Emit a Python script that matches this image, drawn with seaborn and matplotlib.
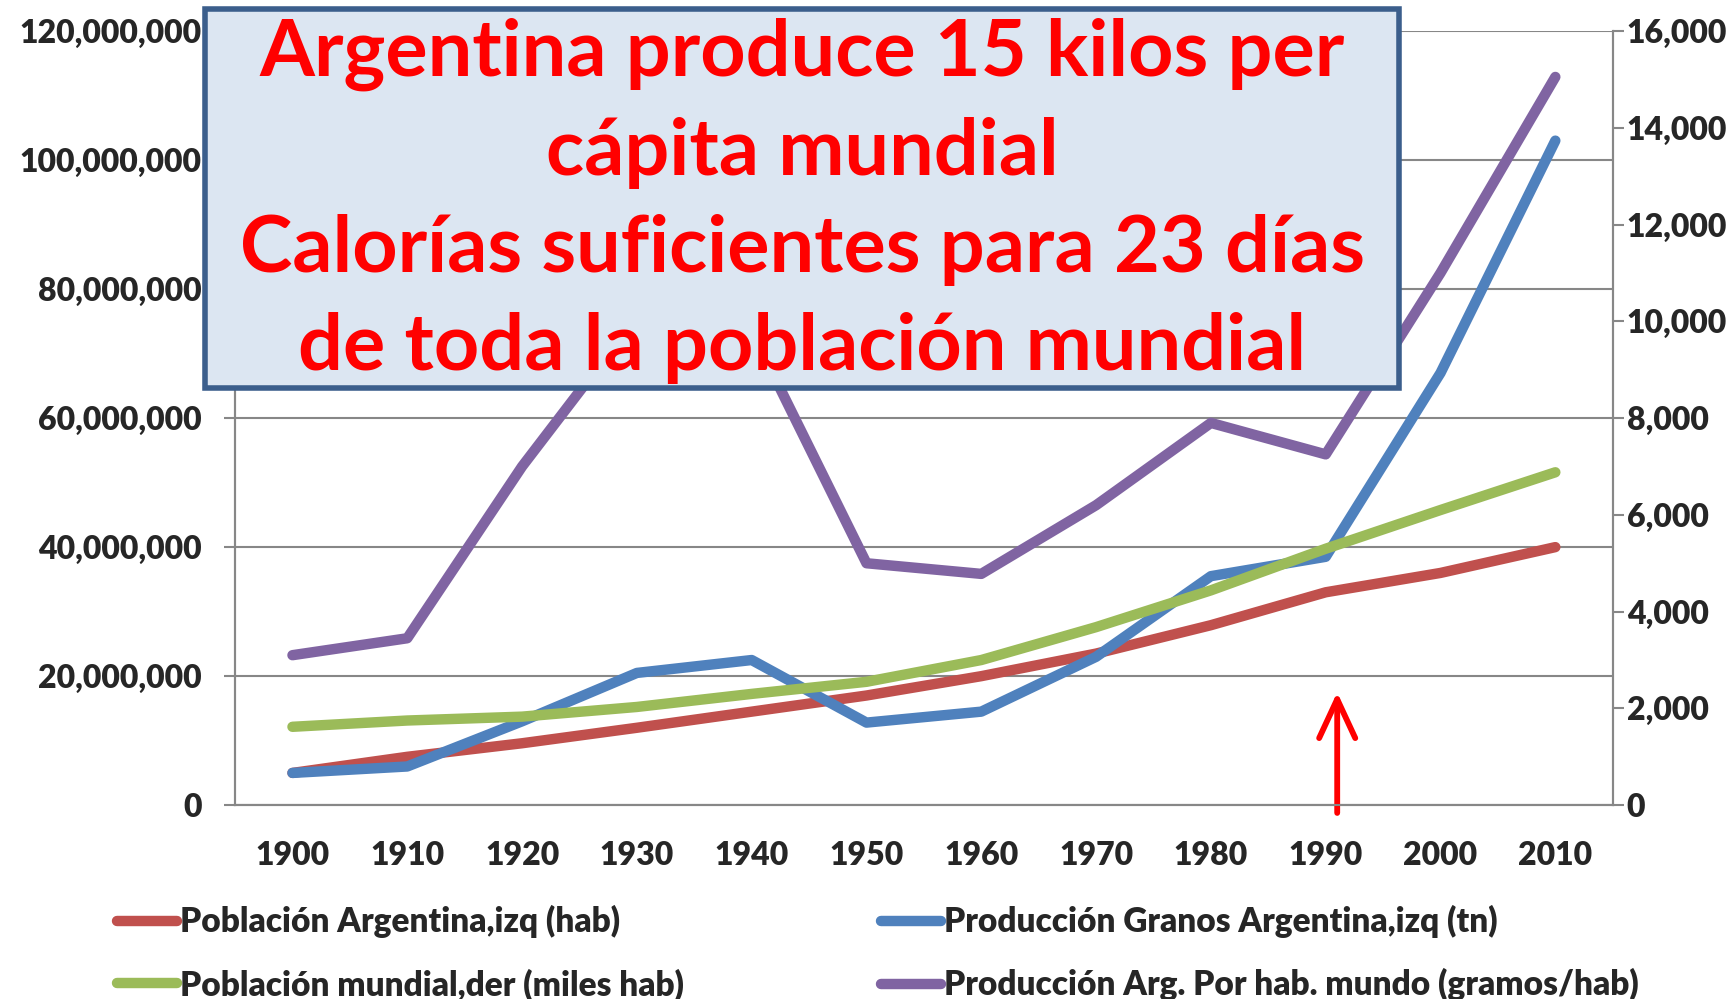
import matplotlib
matplotlib.use("Agg")
import matplotlib.pyplot as plt
from matplotlib.patches import Rectangle
import numpy as np
import pandas as pd
import seaborn as sns

years = ["1900", "1910", "1920", "1930", "1940", "1950",
         "1960", "1970", "1980", "1990", "2000", "2010"]

# left axis
pob_arg = [5.0e6, 7.5e6, 9.6e6, 12.0e6, 14.5e6, 17.0e6,
           20.0e6, 23.5e6, 27.9e6, 33.0e6, 36.0e6, 40.0e6]
prod_granos = [5.0e6, 6.0e6, 13.0e6, 20.5e6, 22.5e6, 12.8e6,
               14.5e6, 23.0e6, 35.5e6, 38.5e6, 67.0e6, 103.0e6]

# right axis
pob_mundial = [1620, 1750, 1830, 2030, 2300, 2550,
               3000, 3680, 4440, 5300, 6100, 6880]
prod_per_hab = [3100, 3450, 7000, 10100, 9800, 5000,
                4780, 6200, 7900, 7250, 11000, 15050]

left_ticks = [0, 20e6, 40e6, 60e6, 80e6, 100e6, 120e6]
right_ticks = [0, 2000, 4000, 6000, 8000, 10000, 12000, 14000, 16000]

labels = {
    "pob_arg": "Población Argentina,izq (hab)",
    "prod_granos": "Producción Granos Argentina,izq (tn)",
    "pob_mundial": "Población mundial,der (miles hab)",
    "prod_per_hab": "Producción Arg. Por hab. mundo (gramos/hab)",
}
colors = {
    "pob_arg": "#C0504D",
    "prod_granos": "#4F81BD",
    "pob_mundial": "#9BBB59",
    "prod_per_hab": "#8064A2",
}

box_lines = ["Argentina produce 15 kilos per",
             "cápita mundial",
             "Calorías suficientes para 23 días",
             "de toda la población mundial"]

sns.set_style("white")
plt.rcParams["font.family"] = ["Lato", "DejaVu Sans"]
plt.rcParams["font.weight"] = "bold"

df = pd.DataFrame({
    "pos": np.arange(len(years)),
    "pob_arg": pob_arg,
    "prod_granos": prod_granos,
    "pob_mundial": pob_mundial,
    "prod_per_hab": prod_per_hab,
})

fig = plt.figure(figsize=(17.36, 9.99), dpi=100)
ax = fig.add_axes([0.1354, 0.194, 0.7936, 0.775])
ax2 = ax.twinx()

lw = 7.5
handles = {}
for key in ["pob_arg", "prod_granos"]:
    sns.lineplot(data=df, x="pos", y=key, ax=ax, color=colors[key],
                 linewidth=lw, solid_capstyle="round", solid_joinstyle="round",
                 label=labels[key], legend=False)
    handles[key] = ax.lines[-1]
for key in ["pob_mundial", "prod_per_hab"]:
    sns.lineplot(data=df, x="pos", y=key, ax=ax2, color=colors[key],
                 linewidth=lw, solid_capstyle="round", solid_joinstyle="round",
                 label=labels[key], legend=False)
    handles[key] = ax2.lines[-1]

gray = "#878787"
fs = 23
wt = "heavy"
ax.set_xlim(-0.5, len(years) - 0.5)
ax.set_ylim(0, 120e6)
ax2.set_ylim(0, 16000)
ax.set_yticks(left_ticks, labels=[f"{v:,.0f}" for v in left_ticks],
              fontsize=fs, fontweight=wt)
ax2.set_yticks(right_ticks, labels=[f"{v:,.0f}" for v in right_ticks],
               fontsize=fs, fontweight=wt)
ax.set_xticks(np.arange(len(years)), labels=years, fontsize=fs, fontweight=wt)
ax.set_xticks(np.arange(-0.5, len(years)), minor=True)
ax.tick_params(axis="x", which="major", length=0, pad=26)
ax.tick_params(axis="x", which="minor", length=10, width=1.5, color=gray)
ax.tick_params(axis="y", length=8, width=1.5, color=gray, pad=16)
ax2.tick_params(axis="y", length=8, width=1.5, color=gray, pad=2)
ax.set_xlabel("")
ax.set_ylabel("")
ax2.set_ylabel("")

ax.grid(axis="y", color=gray, linewidth=1.5)
ax.set_axisbelow(True)
for a in (ax, ax2):
    a.spines["top"].set_visible(False)
    for s in ["left", "right", "bottom"]:
        a.spines[s].set_color(gray)
        a.spines[s].set_linewidth(1.5)

# red arrow under 1990
ax.annotate("", xy=(9.1, 17.5e6), xytext=(9.1, -1.2e6),
            arrowprops=dict(arrowstyle="->,head_length=1.4,head_width=0.65",
                            mutation_scale=20, color="red", lw=4.2,
                            shrinkA=0, shrinkB=0),
            annotation_clip=False, zorder=10)

# text box
rect = Rectangle((0.118, 0.612), 0.688, 0.379, transform=fig.transFigure,
                 facecolor="#DCE6F2", edgecolor="#3B5E8C", linewidth=4, zorder=20)
fig.patches.append(rect)
fig.text(0.462, 0.799, "\n".join(box_lines), ha="center", va="center",
         color="#FF0000", fontsize=57, fontweight="bold", linespacing=1.44,
         zorder=21)

order = ["pob_arg", "pob_mundial", "prod_granos", "prod_per_hab"]
fig.legend([handles[k] for k in order], [labels[k] for k in order],
           loc="upper left", bbox_to_anchor=(0.05, 0.124), ncol=2,
           frameon=False, prop={"size": 24, "weight": wt},
           handlelength=1.8, handletextpad=0.1,
           columnspacing=5.9, labelspacing=0.9)

fig.savefig("out.png", dpi=100)
